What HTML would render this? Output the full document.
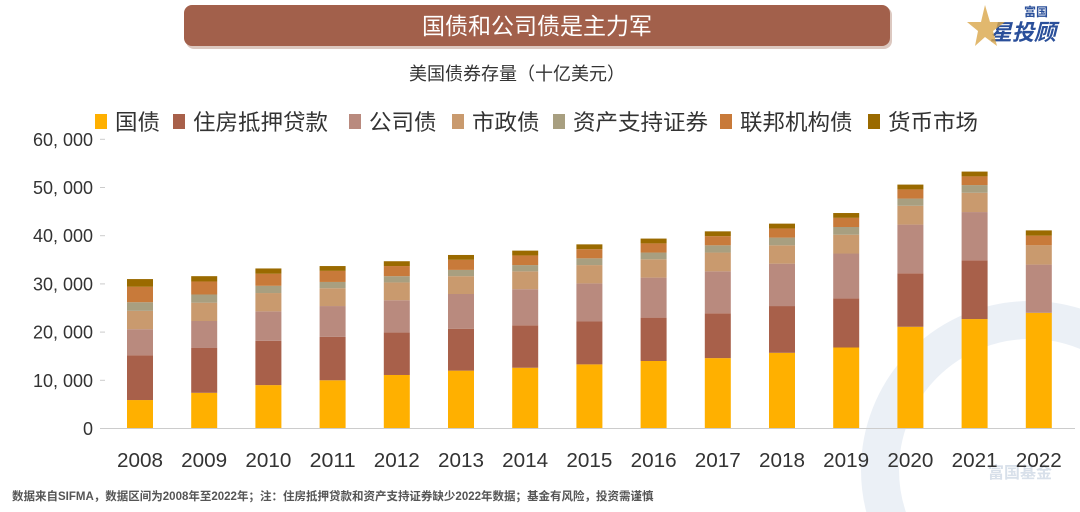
<!DOCTYPE html>
<html><head><meta charset="utf-8"><style>
html,body{margin:0;background:#fff;width:1080px;height:512px;overflow:hidden}
svg{display:block;overflow:hidden}
text{font-family:"Liberation Sans","Noto Sans CJK SC",sans-serif}
</style></head><body>
<svg id="s" width="1080" height="512" xmlns="http://www.w3.org/2000/svg">
<clipPath id="cp"><rect width="1080" height="512"/></clipPath>
<g clip-path="url(#cp)"><circle cx="1030" cy="470" r="150" fill="none" stroke="#e6ecf4" stroke-width="38" opacity="0.8"/></g>
<rect x="186" y="7" width="706" height="42" rx="8" fill="#dcc8c0"/>
<rect x="184" y="5" width="706" height="41" rx="8" fill="#a2604b"/>
<text x="537" y="34" font-size="23" fill="#fff" text-anchor="middle">国债和公司债是主力军</text>
<text x="1024" y="16" font-size="12" fill="#2a4f9a" font-weight="bold">富国</text>
<text x="990" y="40" font-size="22" fill="#2a4f9a" font-weight="bold" font-style="italic">星投顾</text>
<polygon points="985,5 990,22 1005,22 993,31 997,46 985,37 975,46 978,31 967,22 981,22" fill="#d9a64a" opacity="0.8"/>
<text x="517" y="80" font-size="18" fill="#333" text-anchor="middle">美国债券存量（十亿美元）</text>
<text x="1020" y="478" font-size="16" fill="#d8e0ea" font-weight="bold" text-anchor="middle">富国基金</text>
<g id="leg" font-size="22" fill="#333"></g>
<g id="ax" font-size="18" fill="#333"></g>
<g id="bars"></g>
<line x1="104" y1="428.5" x2="1075" y2="428.5" stroke="#ccc" stroke-width="1"/>
<text x="12" y="500" font-size="11.5" font-weight="bold" fill="#555">数据来自SIFMA，数据区间为2008年至2022年；注：住房抵押贷款和资产支持证券缺少2022年数据；基金有风险，投资需谨慎</text>
</svg>
<script>
const ns="http://www.w3.org/2000/svg",s=document.getElementById('s');
function el(t,a,p,txt){const e=document.createElementNS(ns,t);for(const k in a)e.setAttribute(k,a[k]);if(txt!=null)e.textContent=txt;(p||s).appendChild(e);return e;}
const cols=["#ffb000","#a8604a","#b98a7e","#c99a6e","#a89f80","#c87a3a","#9a6a00"];
const names=["国债","住房抵押贷款","公司债","市政债","资产支持证券","联邦机构债","货币市场"];
const data=[
[5.8,7.3,8.9,9.9,11.0,11.9,12.5,13.2,13.9,14.5,15.6,16.7,21.0,22.6,23.9],
[9.3,9.3,9.2,9.0,8.8,8.7,8.8,8.9,9.0,9.3,9.7,10.2,11.1,12.2,0],
[5.4,5.6,6.1,6.4,6.7,7.2,7.5,7.9,8.3,8.7,8.8,9.3,10.1,10.0,10.0],
[3.8,3.8,3.8,3.7,3.7,3.7,3.7,3.8,3.8,3.9,3.8,3.9,3.9,4.0,4.0],
[1.8,1.7,1.5,1.3,1.3,1.3,1.3,1.4,1.4,1.5,1.6,1.6,1.5,1.6,0],
[3.2,2.7,2.5,2.3,2.1,2.1,2.0,1.9,1.9,1.9,1.9,1.9,1.9,1.8,2.0],
[1.6,1.1,1.1,1.0,1.0,1.0,1.0,1.0,1.0,1.0,1.0,1.0,1.0,1.0,1.1]];
const base=428,k=4.82,ax=document.getElementById('ax'),bars=document.getElementById('bars'),leg=document.getElementById('leg');
for(let i=0;i<=6;i++){const y=base-i*10*k;el('text',{x:93,y:y+7,'text-anchor':'end'},ax,i?(i*10)+", 000":"0");el('line',{x1:100,y1:y+.5,x2:105,y2:y+.5,stroke:'#ccc'},ax);}
for(let j=0;j<15;j++){const cx=140+j*64.2;let y=base;
for(let c=0;c<7;c++){const h=data[c][j]*k;if(h>0){el('rect',{x:cx-13,y:y-h,width:26,height:h,fill:cols[c]},bars);y-=h;}}
el('text',{x:cx,y:467,'text-anchor':'middle',textLength:46,lengthAdjust:'spacingAndGlyphs','font-size':20},ax,String(2008+j));}
const lxs=[95,173,349,452,553,720,868];
for(let c=0;c<7;c++){const lx=lxs[c];el('rect',{x:lx,y:114,width:12,height:15,fill:cols[c]},leg);el('text',{x:lx+20,y:130,textLength:names[c].length*22.5,lengthAdjust:'spacingAndGlyphs'},leg,names[c]);}
</script>
</body></html>
